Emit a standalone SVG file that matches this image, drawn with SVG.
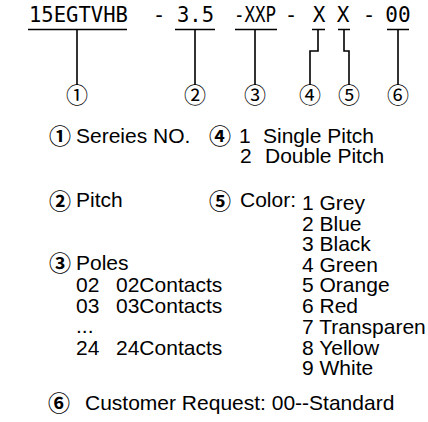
<svg xmlns="http://www.w3.org/2000/svg" width="428" height="422" viewBox="0 0 428 422">
<style>
.code{font-family:"DejaVu Sans Mono","Liberation Mono",monospace;font-size:21px;fill:#000}
.num{font-family:"Noto Sans CJK SC","DejaVu Sans",sans-serif;font-size:22px;fill:#000;text-anchor:middle}
.lnum{font-weight:bold}
.lg{font-family:"Liberation Sans",Arial,sans-serif;font-size:21px;fill:#000}
.ln{fill:none;stroke:#000;stroke-width:1.6}
</style>
<rect width="428" height="422" fill="#fff"/>
<g id="code">
<text class="code" x="29" y="22" textLength="99" lengthAdjust="spacingAndGlyphs">15EGTVHB</text>
<text class="code" x="159" y="22" text-anchor="middle">-</text>
<text class="code" x="177" y="22" textLength="37" lengthAdjust="spacingAndGlyphs">3.5</text>
<text class="code" x="234" y="22" textLength="42" lengthAdjust="spacingAndGlyphs">-XXP</text>
<text class="code" x="291" y="22" text-anchor="middle">-</text>
<text class="code" x="319" y="22" text-anchor="middle">X</text>
<text class="code" x="343" y="22" text-anchor="middle">X</text>
<text class="code" x="369" y="22" text-anchor="middle">-</text>
<text class="code" x="398" y="22" text-anchor="middle">00</text>
</g>
<g id="connectors">
<path class="ln" d="M28 29.5H127M77 29.5V85"/>
<path class="ln" d="M175 29.5H215M195 29.5V85"/>
<path class="ln" d="M235 29.5H277M255 29.5V85"/>
<path class="ln" d="M312 29.5H325M318 29.5V51H310V85"/>
<path class="ln" d="M338 29.5H350M344 29.5V51H349V85"/>
<path class="ln" d="M387 29.5H409M398 29.5V85"/>
</g>
<g id="markers">
<text class="num" x="77" y="103">①</text>
<text class="num" x="195" y="103">②</text>
<text class="num" x="255" y="103">③</text>
<text class="num" x="310" y="103">④</text>
<text class="num" x="349" y="103">⑤</text>
<text class="num" x="398" y="103">⑥</text>
</g>
<g id="legend-1">
<text class="num lnum" x="60" y="144">①</text>
<text class="lg" x="76" y="143">Sereies NO.</text>
</g>
<g id="legend-4">
<text class="num lnum" x="220" y="144">④</text>
<text class="lg" y="143"><tspan x="239">1</tspan><tspan x="263">Single Pitch</tspan></text>
<text class="lg" y="163"><tspan x="240">2</tspan><tspan x="265">Double Pitch</tspan></text>
</g>
<g id="legend-2">
<text class="num lnum" x="60" y="209">②</text>
<text class="lg" x="76" y="207">Pitch</text>
</g>
<g id="legend-5">
<text class="num lnum" x="220" y="209">⑤</text>
<text class="lg" x="240" y="207">Color:</text>
<text class="lg" x="302"><tspan x="302" y="210">1 Grey</tspan><tspan x="302" y="230.5">2 Blue</tspan><tspan x="302" y="251">3 Black</tspan><tspan x="302" y="271.5">4 Green</tspan><tspan x="302" y="292">5 Orange</tspan><tspan x="302" y="312.5">6 Red</tspan><tspan x="302" y="333.5">7 Transparen</tspan><tspan x="302" y="354.5">8 Yellow</tspan><tspan x="302" y="375">9 White</tspan></text>
</g>
<g id="legend-3">
<text class="num lnum" x="60" y="271">③</text>
<text class="lg" x="76" y="270">Poles</text>
<text class="lg" y="292"><tspan x="76">02</tspan><tspan x="116">02Contacts</tspan></text>
<text class="lg" y="313"><tspan x="76">03</tspan><tspan x="116">03Contacts</tspan></text>
<text class="lg" x="76" y="333">...</text>
<text class="lg" y="355"><tspan x="76">24</tspan><tspan x="116">24Contacts</tspan></text>
</g>
<g id="legend-6">
<text class="num lnum" x="59" y="411">⑥</text>
<text class="lg" x="85" y="410">Customer Request: 00--Standard</text>
</g>
</svg>
